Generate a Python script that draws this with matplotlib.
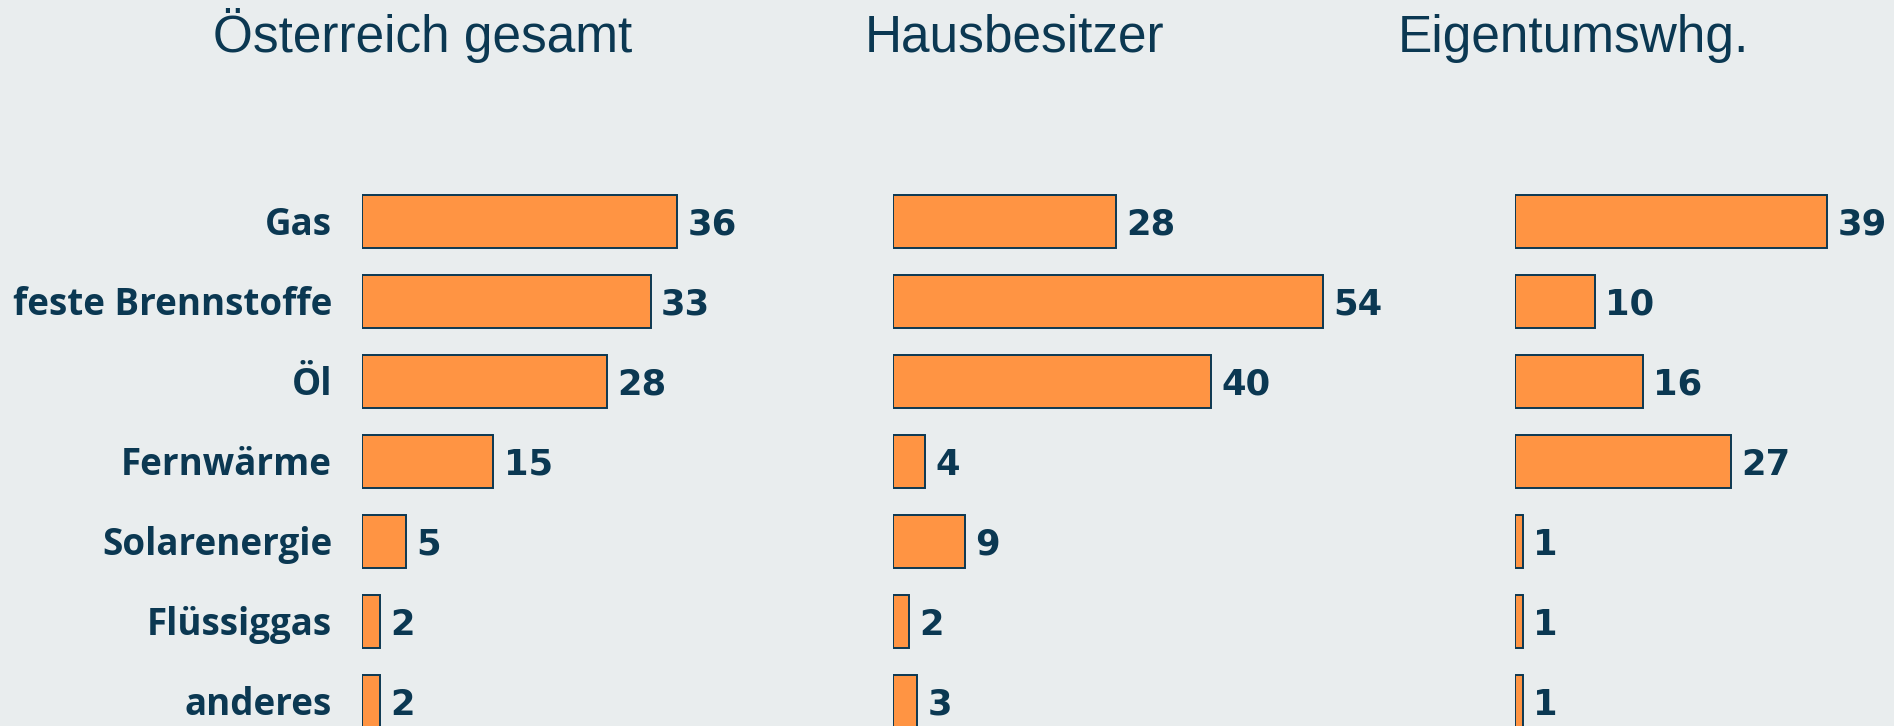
import matplotlib.pyplot as plt

categories = ['Gas', 'feste Brennstoffe', 'Öl', 'Fernwärme', 'Solarenergie', 'Flüssiggas', 'anderes']
titles = ['Österreich gesamt', 'Hausbesitzer', 'Eigentumswhg.']
oesterreich = [36, 33, 28, 15, 5, 2, 2]
hausbesitzer = [28, 54, 40, 4, 9, 2, 3]
eigentum = [39, 10, 16, 27, 1, 1, 1]

bg = '#E9EDEE'
navy = '#0B3852'
orange = '#FF9443'

W, H = 1894, 726
fig = plt.figure(figsize=(W / 100, H / 100), dpi=100, facecolor=bg)

# (left px, px per unit, x max, title centre px)
panels = [(362, 8.75, 40, 423), (893, 7.96, 60, 1015), (1515, 8.0, 45, 1573)]
series = [oesterreich, hausbesitzer, eigentum]

top_px = 181.5
row_px = 80.0
ax_h = H - top_px

for k, (left, ppu, xmax, tc) in enumerate(panels):
    ax = fig.add_axes([left / W, 0, xmax * ppu / W, ax_h / H])
    ax.set_facecolor('none')
    vals = series[k]
    ax.barh(range(len(vals)), vals, height=0.66, color=orange,
            edgecolor=navy, linewidth=1.4)
    ax.set_xlim(0, xmax)
    ax.set_ylim(-0.5 + ax_h / row_px, -0.5)
    ax.axis('off')
    for i, v in enumerate(vals):
        ax.annotate(str(v), (v, i), xytext=(7.5, -9.4), textcoords='offset points',
                    ha='left', va='baseline', fontsize=25.5, fontweight='bold',
                    family='DejaVu Sans', color=navy, annotation_clip=False)
    if k == 0:
        for i, c in enumerate(categories):
            ax.annotate(c, (0, i), xycoords=('axes fraction', 'data'),
                        xytext=(-21.5, -9.4), textcoords='offset points',
                        ha='right', va='baseline', fontsize=26.5, fontweight='bold',
                        family=['Open Sans', 'DejaVu Sans'], color=navy,
                        annotation_clip=False)
    fig.text(tc / W, (H - 52) / H, titles[k], ha='center', va='baseline',
             fontsize=37, family=['Liberation Sans', 'DejaVu Sans'], color=navy)

plt.savefig('out.png', dpi=100, facecolor=bg)
